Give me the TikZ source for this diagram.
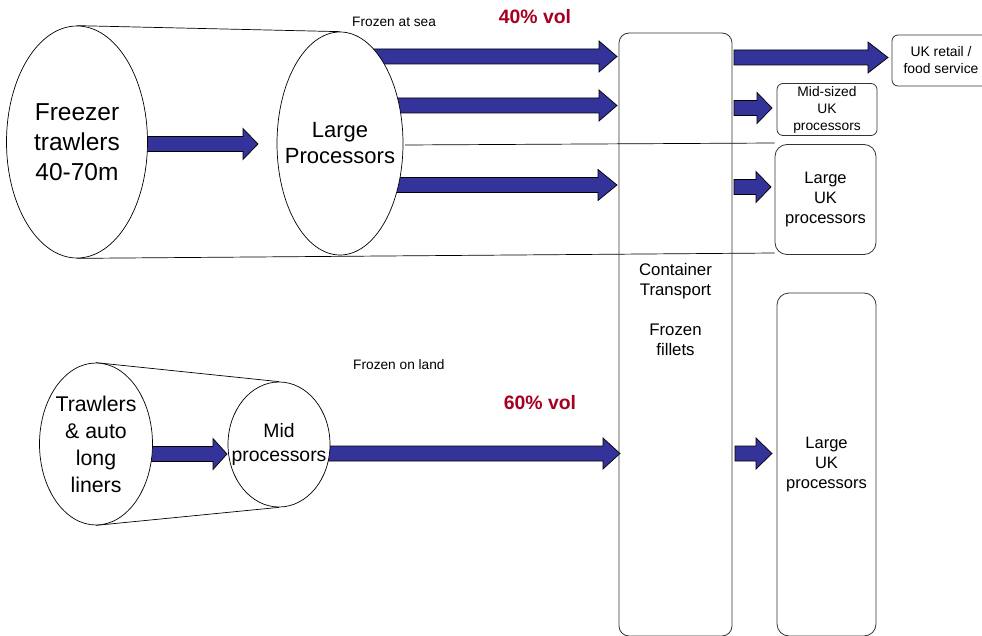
\documentclass[tikz,border=0pt]{standalone}
\usepackage{fontspec}
\setmainfont{Liberation Sans}
\usetikzlibrary{shapes.geometric,backgrounds}
\definecolor{arrowblue}{HTML}{333399}
\definecolor{volred}{HTML}{A50021}
\definecolor{edgegray}{HTML}{333333}
\newcommand{\blockarrow}[4]{%
  \filldraw[barrow] ({#1},{#3-7.5}) -- ({#2-#4},{#3-7.5}) -- ({#2-#4},{#3-15.5}) -- ({#2},{#3}) -- ({#2-#4},{#3+15.5}) -- ({#2-#4},{#3+7.5}) -- ({#1},{#3+7.5}) -- cycle;}
\begin{document}
\begin{tikzpicture}[x=1pt,y=-1pt,
  ell/.style={ellipse,draw,fill=white,line width=0.7pt,inner sep=0pt},
  etext/.style={inner sep=0pt,align=center},
  rbox/.style={draw=edgegray,line width=0.8pt,inner sep=0pt,align=center},
  barrow/.style={fill=arrowblue,draw=black,line width=0.7pt,line join=miter},
  thin line/.style={draw=black,line width=0.7pt},
  lbl/.style={inner sep=0pt,font=\fontsize{13.7}{16}\selectfont},
  vol/.style={inner sep=0pt,text=volred,font=\fontsize{19.4}{22}\selectfont\bfseries}]
\useasboundingbox (0,0) rectangle (982,636);

% source ellipses
\node[ell,minimum width=141pt,minimum height=232pt] (ft) at (77,142) {};
\node[etext,font=\fontsize{24.5}{30}\selectfont] (ftt) at (ft.center) {Freezer\\trawlers\\40-70m};
\node[ell,minimum width=126pt,minimum height=223pt] (lp) at (340,143.5) {};
\node[etext,font=\fontsize{22}{26}\selectfont] (lpt) at (lp.center) {Large\\Processors};
\node[ell,minimum width=113pt,minimum height=162pt] (tr) at (96,444) {};
\node[etext,font=\fontsize{21.3}{27}\selectfont] (trt) at (tr.center) {Trawlers\\\& auto\\long\\liners};
\node[ell,minimum width=102pt,minimum height=125pt] (mp) at (279,444.5) {};
\node[etext,font=\fontsize{19.4}{24}\selectfont] (mpt) at (mp.center) {Mid\\processors};

% container
\node[rbox,rounded corners=10pt,minimum width=113pt,minimum height=603pt] (cont) at (675.5,334.5) {};
\node[etext,font=\fontsize{16.8}{20}\selectfont] (conttext) at (675.5,309)
  {Container\\Transport\\ \\Frozen\\fillets};

% destination boxes
\node[rbox,rounded corners=6pt,fill=white,minimum width=98pt,minimum height=51pt,font=\fontsize{13.9}{17}\selectfont] (ukr) at (941,60.5) {UK retail /\\food service};
\node[rbox,rounded corners=6pt,fill=white,minimum width=100pt,minimum height=52pt,font=\fontsize{13.8}{17}\selectfont] (mid) at (827,109.5) {Mid-sized\\UK\\processors};
\node[rbox,rounded corners=12pt,fill=white,minimum width=101pt,minimum height=110pt,font=\fontsize{16.5}{20}\selectfont] (luk1) at (825.5,199.5) {Large\\UK\\processors};
\node[rbox,rounded corners=12pt,fill=white,minimum width=99pt,minimum height=343pt,font=\fontsize{16.5}{20}\selectfont] (luk2) at (826.5,464.5) {Large\\UK\\processors};

% labels
\node[lbl,anchor=west] (fas) at (352,22) {Frozen at sea};
\node[vol] (v40) at (535,17) {40\% vol};
\node[lbl,anchor=west] (fol) at (353,365) {Frozen on land};
\node[vol] (v60) at (540,403) {60\% vol};

\begin{scope}[on background layer]
  % cylinder / cone lines
  \coordinate (lpmid) at (405,145);
  \coordinate (lukmid) at (luk1.west |- 0,143);
  \coordinate (lukbot) at (luk1.west |- 0,253);
  \draw[thin line] (ft.north) -- (lp.north);
  \draw[thin line] (ft.south) -- (lukbot);
  \draw[thin line] (lpmid) -- (lukmid);
  \draw[thin line] (tr.north) -- (mp.north);
  \draw[thin line] (tr.south) -- (mp.south);
  % block arrows
  \blockarrow{360}{617}{56.5}{18}
  \blockarrow{360}{617}{105.5}{18}
  \blockarrow{360}{617}{185}{19}
  \blockarrow{140}{258}{144}{15}
  \blockarrow{320}{620}{453.5}{17}
  \blockarrow{145}{227}{454}{14}
  \blockarrow{734}{888}{57.5}{20}
  \blockarrow{734}{772}{108}{15}
  \blockarrow{734}{771}{187}{15}
  \blockarrow{735}{772}{453.5}{16}
\end{scope}
\end{tikzpicture}
\end{document}
